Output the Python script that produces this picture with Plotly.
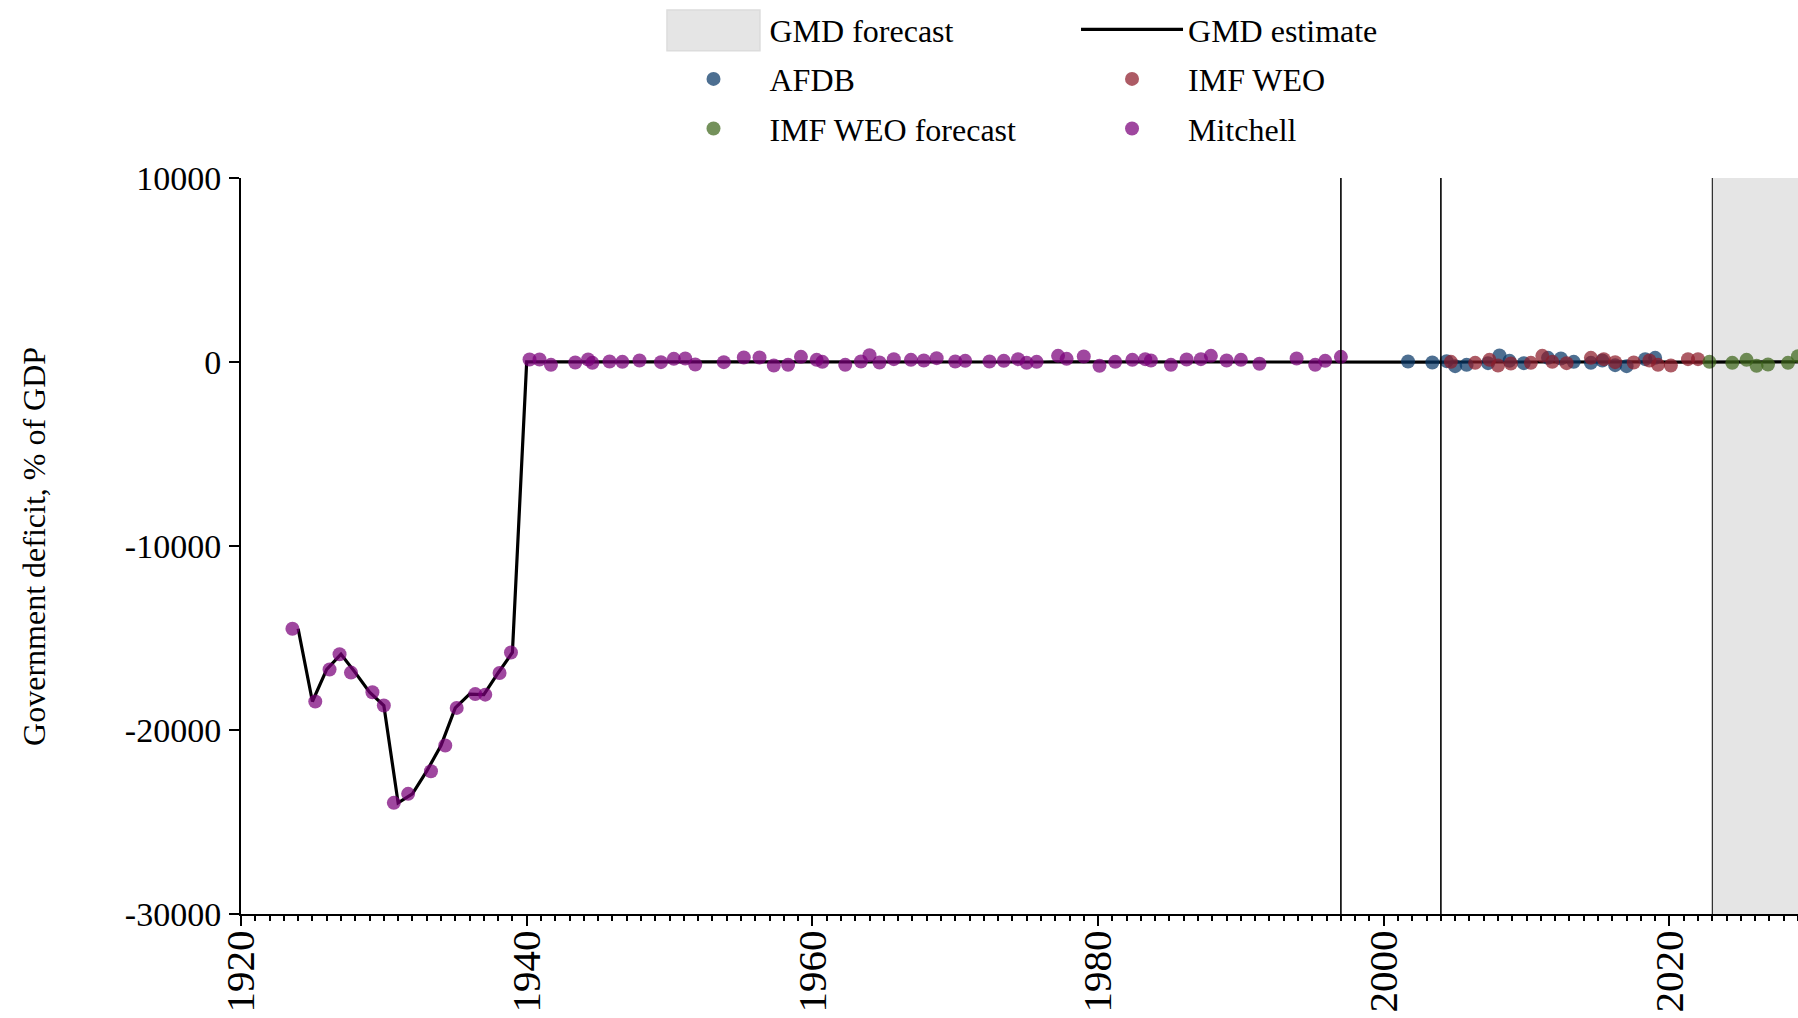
import plotly.graph_objects as go

# GMD estimate (line), one value per year
est_years = list(range(1924, 2030))
est_values = [-14500, -18450, -16710, -15880, -16880, -17950, -18670, -23960,
              -23470, -22240, -20840, -18800, -18050, -18080, -16900, -15790,
              # 1940-2029, close to zero at this scale
              3, 2, -2, 1, 1, 0, 1, 0, 2, 0,
              3, 3, -2, 0, 0, 4, 3, -3, -2, 4,
              2, 0, -2, 1, 5, -1, 2, 2, 1, 3,
              1, 1, 1, 1, 2, -1, 0, 5, 3, 4,
              -3, 0, 2, 2, 1, -2, 2, 2, 5, 1,
              2, -1, 1, 1, 3, -2, 1, 4, 3, 2,
              1, 1, 0, 1, -3, -2, -1, 2, 1, -1,
              -1, 3, 2, 0, 1, 2, -2, -3, 2, 3,
              -3, 2, 2, 0, -1, 2, -3, -2, -1, 4]

# source points (x positions are spread slightly around the year, as in the chart)
mitchell_x = [1923.6, 1925.2, 1926.2, 1926.9, 1927.7, 1929.2, 1930.0, 1930.7,
              1931.7, 1933.3, 1934.3, 1935.1, 1936.4, 1937.1, 1938.1, 1938.9,
              1940.2, 1940.9, 1941.7, 1943.4, 1944.3, 1944.6, 1945.8, 1946.7,
              1947.9, 1949.4, 1950.3, 1951.1, 1951.8, 1953.8, 1955.2, 1956.3,
              1957.3, 1958.3, 1959.2, 1960.3, 1960.7, 1962.3, 1963.4, 1964.0,
              1964.7, 1965.7, 1966.9, 1967.8, 1968.7, 1970.0, 1970.7, 1972.4,
              1973.4, 1974.4, 1975.0, 1975.7, 1977.2, 1977.8, 1979.0, 1980.1,
              1981.2, 1982.4, 1983.3, 1983.7, 1985.1, 1986.2, 1987.2, 1987.9,
              1989.0, 1990.0, 1991.3, 1993.9, 1995.2, 1995.9, 1997.0]
mitchell_y = [-14500, -18450, -16710, -15880, -16880, -17950, -18670, -23960,
              -23470, -22240, -20840, -18800, -18050, -18080, -16900, -15790,
              136, 136, -154, -27, 136, -45, 27, 9,
              81, -9, 172, 190, -136, -9, 245, 245,
              -190, -154, 281, 118, 9, -154, 27, 371,
              -27, 154, 118, 81, 208, 27, 63, 27,
              63, 154, -45, 9, 335, 172, 299, -208,
              9, 118, 154, 81, -154, 136, 154, 335,
              81, 118, -99, 190, -154, 63, 281]

afdb_x = [2001.7, 2003.4, 2004.4, 2005.0, 2005.8, 2007.3, 2008.1, 2008.8, 2009.8,
          2011.5, 2012.4, 2013.3, 2014.5, 2015.3, 2016.2, 2017.0, 2018.3, 2019.0]
afdb_y = [27, -27, 45, -226, -154, -63, 353, 63, -63,
          226, 190, 9, -45, 81, -172, -226, 154, 226]

weo_x = [2004.7, 2006.4, 2007.4, 2008.0, 2008.9, 2010.3, 2011.1, 2011.8, 2012.8,
         2014.5, 2015.4, 2016.2, 2017.5, 2018.6, 2019.2, 2020.1, 2021.3, 2022.0]
weo_y = [9, -45, 118, -190, -82, -45, 335, 9, -63,
         226, 154, -9, -27, 81, -154, -190, 154, 154]

weo_fc_x = [2022.8, 2024.4, 2025.4, 2026.1, 2026.9, 2028.3, 2029.0]
weo_fc_y = [9, -45, 118, -208, -136, -45, 317]

break_years = [1997, 2004]
forecast_start = 2023
forecast_end = 2030

y_ticks = [-30000, -20000, -10000, 0, 10000]
y_ticklabels = ["-30000", "-20000", "-10000", "0", "10000"]

FONT = "Liberation Serif, Times New Roman, serif"
SHADE = "#e5e5e5"

fig = go.Figure()

fig.add_trace(go.Scatter(x=est_years, y=est_values, mode="lines", name="GMD estimate",
                         line=dict(color="black", width=3.2),
                         legend="legend2", legendgroup="b", legendrank=1))

marker_sets = [
    ("AFDB", afdb_x, afdb_y, "#083766", "legend", 2),
    ("IMF WEO", weo_x, weo_y, "#8e1c2a", "legend2", 2),
    ("IMF WEO forecast", weo_fc_x, weo_fc_y, "#3e661c", "legend", 3),
    ("Mitchell", mitchell_x, mitchell_y, "#7a007a", "legend2", 3),
]
for name, xs, ys, col, leg, rank in marker_sets:
    fig.add_trace(go.Scatter(x=xs, y=ys, mode="markers", name=name,
                             marker=dict(color=col, size=14, opacity=0.72, line=dict(width=0)),
                             legend=leg, legendgroup=name, legendrank=rank))

# forecast shading, also the legend entry
fig.add_shape(type="rect", xref="x", yref="paper", x0=forecast_start, x1=forecast_end,
              y0=0, y1=1, fillcolor=SHADE, opacity=1, line=dict(width=0),
              layer="below", showlegend=True, name="GMD forecast",
              legend="legend", legendgroup="a", legendrank=1)
# wider key box behind the legend symbol of the forecast entry
fig.add_shape(type="rect", xref="paper", yref="paper",
              x0=0.2736, x1=0.3333, y0=1.1730, y1=1.2283,
              fillcolor=SHADE, line=dict(width=1.5, color="#dcdcdc"), layer="above")
fig.add_vline(x=forecast_start, line=dict(color="black", width=1))
for yr in break_years:
    fig.add_vline(x=yr, line=dict(color="black", width=1.6))

legend_common = dict(orientation="v", xref="paper", yref="paper",
                     xanchor="left", yanchor="top", itemwidth=102, tracegroupgap=5,
                     font=dict(family=FONT, size=32, color="black"),
                     bgcolor="rgba(0,0,0,0)", traceorder="grouped")

# page has no body margin (see post_script), so the figure fills the window
fig.update_layout(
    width=1798, height=1018,
    margin=dict(l=241, r=0, t=178, b=104, autoexpand=False),
    paper_bgcolor="white", plot_bgcolor="white",
    font=dict(family=FONT, size=32, color="black"),
    showlegend=True,
    legend=dict(x=0.2675, y=1.2391, **legend_common),
    legend2=dict(x=0.5363, y=1.2391, **legend_common),
    annotations=[dict(text="Government deficit, % of GDP", xref="paper", yref="paper",
                      x=-0.1330, y=0.5, xanchor="center", yanchor="middle",
                      textangle=-90, showarrow=False,
                      font=dict(family=FONT, size=32, color="black"))],
)

fig.update_xaxes(range=[1920, 2029], tickmode="linear", tick0=1920, dtick=20,
                 ticks="outside", ticklen=10, tickwidth=2, tickcolor="black",
                 tickangle=-90, tickfont=dict(family=FONT, size=41, color="black"),
                 ticklabelstandoff=-12,
                 showline=True, linecolor="black", linewidth=2,
                 showgrid=False, zeroline=False, automargin=False,
                 minor=dict(dtick=1, ticks="outside", ticklen=5, tickwidth=1.5,
                            tickcolor="black", showgrid=False))
fig.update_yaxes(range=[-30000, 10000], tickmode="array", tickvals=y_ticks,
                 ticktext=y_ticklabels,
                 ticks="outside", ticklen=10, tickwidth=2, tickcolor="black",
                 tickfont=dict(family=FONT, size=34, color="black"),
                 ticklabelstandoff=1,
                 showline=True, linecolor="black", linewidth=2,
                 showgrid=False, zeroline=False, automargin=False)

fig.write_html("out.html", config={"displayModeBar": False},
               post_script="document.body.style.margin='0';"
                           "document.documentElement.style.overflow='hidden';")
